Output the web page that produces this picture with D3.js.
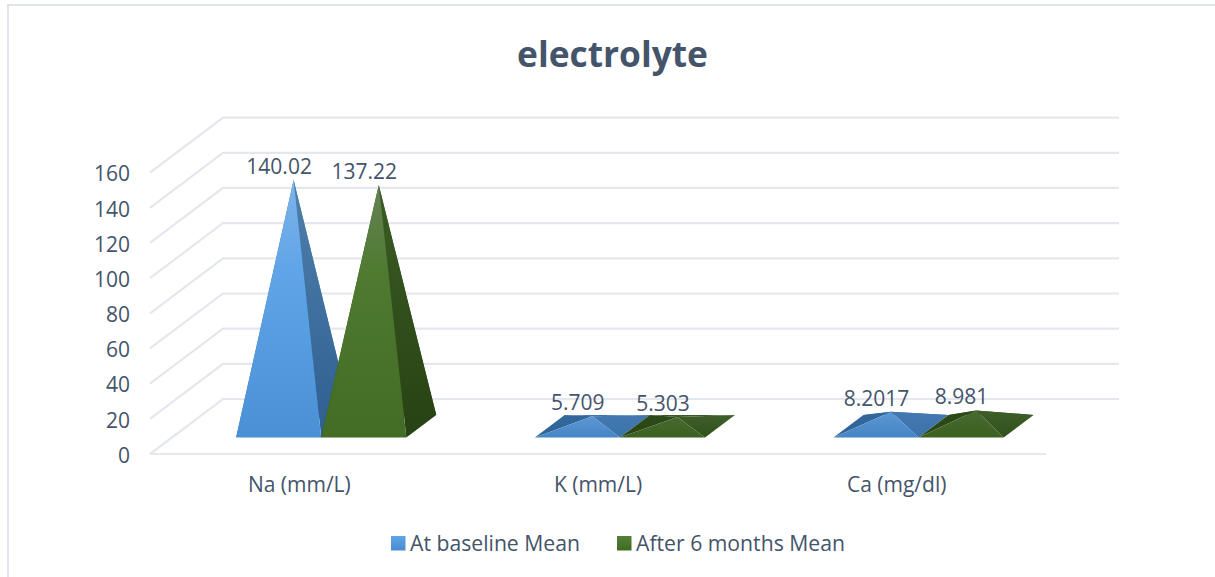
<!DOCTYPE html>
<html>
<head>
<meta charset="utf-8">
<script src="https://cdn.jsdelivr.net/npm/d3@7"></script>
<style>
	html, body { margin: 0; padding: 0; background: #fff; }
	svg { display: block; }
	text { font-family: "Open Sans", "Noto Sans", sans-serif; fill: #44546a; }
	.grid { stroke: #e5e7ee; stroke-width: 2.2; fill: none; }
	.axis path, .axis line { display: none; }
</style>
</head>
<body>
<svg id="myGraph" width="1215" height="577"></svg>
<script>
var categories = ["Na (mm/L)", "K (mm/L)", "Ca (mg/dl)"];
var seriesNames = ["At baseline Mean", "After 6 months Mean"];
var baseline = [140.02, 5.709, 8.2017];
var after6 = [137.22, 5.303, 8.981];
var labelsBaseline = ["140.02", "5.709", "8.2017"];
var labelsAfter6 = ["137.22", "5.303", "8.981"];
var yTicks = [0, 20, 40, 60, 80, 100, 120, 140, 160];

var svg = d3.select("#myGraph");
var defs = svg.append("defs");

// 3D 바닥 깊이
var depthX = 73, depthY = 55;
var x0 = d3.scaleBand().domain(categories).range([150, 1046]).paddingInner(0.43).paddingOuter(0.215);
var x1 = d3.scaleBand().domain(d3.range(2)).range([0, x0.bandwidth()]);
var y = d3.scaleLinear().domain([0, 160]).range([454, 172.6]);

// (가로 위치, 값, 깊이) -> 화면 좌표
function project(px, v, d) {
	return [px + d * depthX, y(v) - d * depthY];
}

function gradient(id, stops) {
	var g = defs.append("linearGradient").attr("id", id)
		.attr("x1", 0).attr("y1", 0).attr("x2", 0).attr("y2", 1);
	stops.forEach(function (s) {
		g.append("stop").attr("offset", s[0]).attr("stop-color", s[1]);
	});
}
// 높은 피라미드
gradient("front0", [[0, "#7fb3e8"], [0.35, "#5fa5e8"], [1, "#4a90d5"]]);
gradient("side0", [[0, "#4f80ab"], [1, "#2f5f90"]]);
gradient("left0", [[0, "#3f74a8"], [1, "#2f659c"]]);
gradient("back0", [[0, "#4a80b5"], [1, "#33699f"]]);
gradient("front1", [[0, "#648354"], [0.35, "#4f7a30"], [1, "#436c25"]]);
gradient("side1", [[0, "#3b5c24"], [1, "#274213"]]);
gradient("left1", [[0, "#2f5018"], [1, "#2a4a14"]]);
gradient("back1", [[0, "#46652f"], [1, "#2f4f18"]]);
// 납작한 피라미드
gradient("flatfront0", [[0, "#5c97d2"], [1, "#4585c6"]]);
gradient("flatside0", [[0, "#4379b0"], [1, "#3a72aa"]]);
gradient("flatleft0", [[0, "#33689c"], [1, "#2f6396"]]);
gradient("flatback0", [[0, "#4379b0"], [1, "#3a72aa"]]);
gradient("flatfront1", [[0, "#466a30"], [1, "#3b6020"]]);
gradient("flatside1", [[0, "#3f5e2a"], [1, "#30521a"]]);
gradient("flatleft1", [[0, "#2c4a17"], [1, "#2a4613"]]);
gradient("flatback1", [[0, "#3f5e2a"], [1, "#30521a"]]);
gradient("swatch0", [[0, "#5fa5e8"], [1, "#4a8ccf"]]);
gradient("swatch1", [[0, "#55803a"], [1, "#3f6a20"]]);

// 테두리
svg.append("path").attr("d", "M8,577V5H1215").attr("fill", "none")
	.attr("stroke", "#dfe3ea").attr("stroke-width", 2);

// 제목
svg.append("text").attr("x", 612.5).attr("y", 67).attr("text-anchor", "middle")
	.attr("font-size", 35.3).attr("font-weight", 700).text("electrolyte");

// 그리드
var line = d3.line();
var grid = svg.append("g");
grid.selectAll("path.wall").data(yTicks).enter().append("path")
	.attr("class", "grid")
	.attr("d", function (t) {
		return line([[150, y(t)], project(150, t, 1), project(1046, t, 1)]);
	});
grid.append("path").attr("class", "grid")
	.attr("d", line([[150, y(0)], [1046, y(0)]]));

// 축
svg.append("g").attr("class", "axis")
	.attr("transform", "translate(137,1.5)")
	.call(d3.axisLeft(y).tickValues(yTicks).tickSize(0).tickPadding(7))
	.selectAll("text").attr("font-size", 21).style("font-family", null);

svg.append("g").attr("class", "axis")
	.attr("transform", "translate(0,454)")
	.call(d3.axisBottom(x0).tickSize(0).tickPadding(23.5))
	.selectAll("text").attr("font-size", 21).style("font-family", null);
svg.selectAll(".axis").attr("font-family", null);

// 피라미드
function drawPyramid(g, cat, s, v, label) {
	var left = x0(cat) + x1(s);
	var right = left + x1.bandwidth();
	var fl = project(left, 0, 0.3), fr = project(right, 0, 0.3);
	var bl = project(left, 0, 0.71), br = project(right, 0, 0.71);
	var apex = project((left + right) / 2, v, 0.505);
	var pre = v < 20 ? "flat" : "";

	var faces = [
		["back", [bl, br, apex]],
		["left", [fl, bl, apex]],
		["side", [fr, br, apex]],
		["front", [fl, fr, apex]]
	];
	faces.forEach(function (f) {
		g.append("path")
			.attr("d", line(f[1]) + "Z")
			.attr("fill", "url(#" + pre + f[0] + s + ")");
	});

	svg.append("text")
		.attr("class", "dataLabel")
		.attr("x", apex[0] - 14.5)
		.attr("y", apex[1] - 6)
		.attr("text-anchor", "middle")
		.attr("font-size", 21)
		.text(label);
}

var bars = svg.append("g");
categories.forEach(function (c, i) {
	drawPyramid(bars, c, 0, baseline[i], labelsBaseline[i]);
	drawPyramid(bars, c, 1, after6[i], labelsAfter6[i]);
});

// 범례
var legendX = [391, 617];
seriesNames.forEach(function (n, i) {
	svg.append("rect").attr("x", legendX[i]).attr("y", 536)
		.attr("width", 14.5).attr("height", 14.5)
		.attr("fill", "url(#swatch" + i + ")");
	svg.append("text").attr("x", legendX[i] + 19).attr("y", 550.5)
		.attr("font-size", 21.2).text(n);
});
</script>
</body>
</html>
